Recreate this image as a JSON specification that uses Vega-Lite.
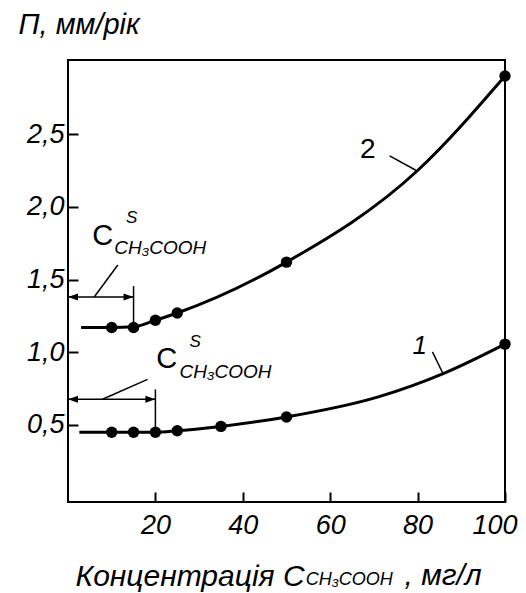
{
  "$schema": "https://vega.github.io/schema/vega-lite/v6.json",
  "width": 437,
  "height": 442,
  "autosize": "none",
  "padding": {"left": 68, "top": 60, "right": 21, "bottom": 91},
  "background": "white",
  "config": {
    "font": "Liberation Sans",
    "view": {"stroke": "black", "strokeWidth": 2},
    "axis": {
      "domain": false,
      "grid": false,
      "ticks": true,
      "tickColor": "black",
      "tickWidth": 2,
      "tickSize": -10,
      "labelFont": "Liberation Sans",
      "labelFontStyle": "italic",
      "labelFontSize": 27,
      "labelColor": "black",
      "titleFont": "Liberation Sans",
      "titleFontStyle": "italic",
      "titleFontWeight": "normal",
      "titleColor": "black"
    }
  },
  "datasets": {
    "curves": [
      {"series": "2", "x": 3, "y": 1.17},
      {"series": "2", "x": 10, "y": 1.17},
      {"series": "2", "x": 15, "y": 1.175},
      {"series": "2", "x": 20, "y": 1.22},
      {"series": "2", "x": 25, "y": 1.27},
      {"series": "2", "x": 50, "y": 1.62},
      {"series": "2", "x": 80, "y": 2.25},
      {"series": "2", "x": 100, "y": 2.9},
      {"series": "1", "x": 2.6, "y": 0.45},
      {"series": "1", "x": 10, "y": 0.45},
      {"series": "1", "x": 15, "y": 0.45},
      {"series": "1", "x": 20, "y": 0.45},
      {"series": "1", "x": 25, "y": 0.46},
      {"series": "1", "x": 35, "y": 0.49},
      {"series": "1", "x": 50, "y": 0.555},
      {"series": "1", "x": 71, "y": 0.693},
      {"series": "1", "x": 86, "y": 0.855},
      {"series": "1", "x": 100, "y": 1.056}
    ],
    "dots": [
      {"series": "2", "x": 10, "y": 1.17},
      {"series": "2", "x": 15, "y": 1.17},
      {"series": "2", "x": 20, "y": 1.22},
      {"series": "2", "x": 25, "y": 1.27},
      {"series": "2", "x": 50, "y": 1.62},
      {"series": "2", "x": 100, "y": 2.9},
      {"series": "1", "x": 10, "y": 0.45},
      {"series": "1", "x": 15, "y": 0.45},
      {"series": "1", "x": 20, "y": 0.45},
      {"series": "1", "x": 25, "y": 0.46},
      {"series": "1", "x": 35, "y": 0.49},
      {"series": "1", "x": 50, "y": 0.555},
      {"series": "1", "x": 100, "y": 1.056}
    ],
    "segments": [
      {"x": 0, "y": 1.38, "x2": 15, "y2": 1.38},
      {"x": 15, "y": 1.455, "x2": 15, "y2": 1.17},
      {"x": 11.4, "y": 1.6, "x2": 6.0, "y2": 1.38},
      {"x": 0, "y": 0.677, "x2": 20, "y2": 0.677},
      {"x": 20, "y": 0.744, "x2": 20, "y2": 0.45},
      {"x": 18.2, "y": 0.813, "x2": 7.9, "y2": 0.677},
      {"x": 73.6, "y": 2.35, "x2": 79.7, "y2": 2.25},
      {"x": 83.4, "y": 1.003, "x2": 85.8, "y2": 0.854}
    ],
    "heads": [
      {"dir": "left", "x": 0, "y": 1.38},
      {"dir": "right", "x": 15, "y": 1.38},
      {"dir": "left", "x": 0, "y": 0.677},
      {"dir": "right", "x": 20, "y": 0.677}
    ],
    "notes": [
      {"role": "main", "text": "C", "x": 5.57, "y": 1.737},
      {"role": "sup", "text": "S", "x": 13.3, "y": 1.888},
      {"role": "sub", "text": "CH₃COOH", "x": 10.6, "y": 1.675},
      {"role": "main", "text": "C", "x": 20.2, "y": 0.889},
      {"role": "sup", "text": "S", "x": 27.8, "y": 1.037},
      {"role": "sub", "text": "CH₃COOH", "x": 25.5, "y": 0.82},
      {"role": "curve2", "text": "2", "x": 68.6, "y": 2.333},
      {"role": "curve1", "text": "1", "x": 80.5, "y": 0.99},
      {"role": "xsub", "text": "CH₃COOH", "x": 54.4, "y": -0.6},
      {"role": "xunit", "text": ", мг/л", "x": 77.0, "y": -0.6}
    ]
  },
  "encoding": {
    "x": {
      "field": "x",
      "type": "quantitative",
      "scale": {"domain": [0, 100], "nice": false, "zero": false},
      "axis": {
        "values": [20, 40, 60, 80, 100],
        "labelPadding": 20,
        "labelFlush": true,
        "labelFlushOffset": 12,
        "title": "Концентрація C",
        "titleFontSize": 30,
        "titleAnchor": "start",
        "titleAlign": "left",
        "titleBaseline": "alphabetic",
        "titleX": 7,
        "titleY": 83
      }
    },
    "y": {
      "field": "y",
      "type": "quantitative",
      "scale": {"domain": [-0.03, 3.01], "nice": false, "zero": false},
      "axis": {
        "values": [0.5, 1, 1.5, 2, 2.5],
        "labelExpr": "replace(format(datum.value, '.1f'), '.', ',')",
        "labelPadding": 14,
        "labelFlush": false,
        "title": "П, мм/рік",
        "titleFontSize": 29,
        "titleAngle": 0,
        "titleAlign": "left",
        "titleBaseline": "alphabetic",
        "titleX": -50,
        "titleY": -27
      }
    }
  },
  "layer": [
    {
      "data": {"name": "curves"},
      "mark": {"type": "line", "interpolate": "monotone", "color": "black", "strokeWidth": 3},
      "encoding": {"detail": {"field": "series", "type": "nominal"}}
    },
    {
      "data": {"name": "dots"},
      "mark": {"type": "point", "filled": true, "color": "black", "size": 130, "opacity": 1, "shape": "circle"}
    },
    {
      "data": {"name": "segments"},
      "mark": {"type": "rule", "color": "black", "strokeWidth": 1.5},
      "encoding": {
        "x2": {"field": "x2"},
        "y2": {"field": "y2"}
      }
    },
    {
      "data": {"name": "heads"},
      "mark": {"type": "point", "filled": true, "color": "black", "size": 400, "opacity": 1, "strokeWidth": 0},
      "encoding": {
        "shape": {
          "field": "dir",
          "type": "nominal",
          "scale": {"domain": ["left", "right"], "range": ["M0,0L1,-0.35L1,0.35Z", "M0,0L-1,-0.35L-1,0.35Z"]},
          "legend": null
        }
      }
    },
    {
      "data": {"name": "notes"},
      "transform": [{"filter": "datum.role === 'main'"}],
      "mark": {"type": "text", "align": "left", "baseline": "alphabetic", "fontSize": 29, "color": "black"},
      "encoding": {"text": {"field": "text"}}
    },
    {
      "data": {"name": "notes"},
      "transform": [{"filter": "datum.role === 'sup'"}],
      "mark": {"type": "text", "align": "left", "baseline": "alphabetic", "fontSize": 17, "fontStyle": "italic", "color": "black"},
      "encoding": {"text": {"field": "text"}}
    },
    {
      "data": {"name": "notes"},
      "transform": [{"filter": "datum.role === 'sub'"}],
      "mark": {"type": "text", "align": "left", "baseline": "alphabetic", "fontSize": 19, "fontStyle": "italic", "color": "black"},
      "encoding": {"text": {"field": "text"}}
    },
    {
      "data": {"name": "notes"},
      "transform": [{"filter": "datum.role === 'xsub'"}],
      "mark": {"type": "text", "align": "left", "baseline": "alphabetic", "fontSize": 18, "fontStyle": "italic", "color": "black"},
      "encoding": {"text": {"field": "text"}}
    },
    {
      "data": {"name": "notes"},
      "transform": [{"filter": "datum.role === 'xunit'"}],
      "mark": {"type": "text", "align": "left", "baseline": "alphabetic", "fontSize": 30, "fontStyle": "italic", "color": "black"},
      "encoding": {"text": {"field": "text"}}
    },
    {
      "data": {"name": "notes"},
      "transform": [{"filter": "datum.role === 'curve2'"}],
      "mark": {"type": "text", "align": "center", "baseline": "alphabetic", "fontSize": 28, "color": "black"},
      "encoding": {"text": {"field": "text"}}
    },
    {
      "data": {"name": "notes"},
      "transform": [{"filter": "datum.role === 'curve1'"}],
      "mark": {"type": "text", "align": "center", "baseline": "alphabetic", "fontSize": 26, "fontStyle": "italic", "color": "black"},
      "encoding": {"text": {"field": "text"}}
    }
  ]
}
